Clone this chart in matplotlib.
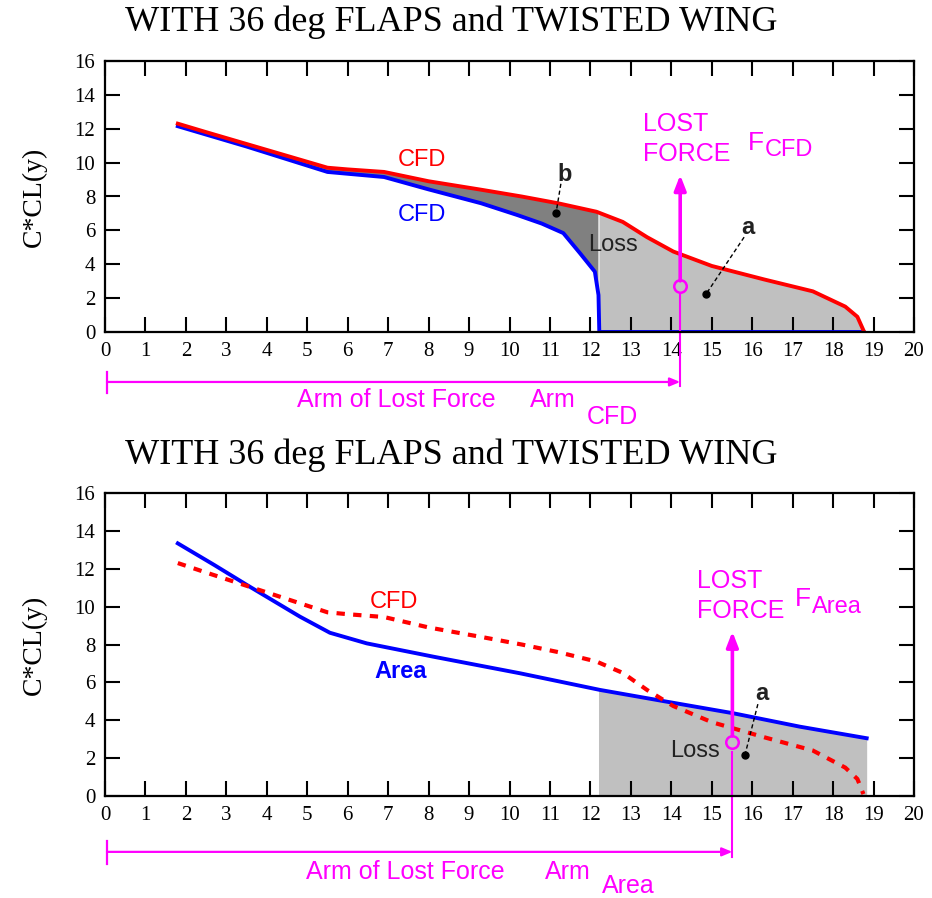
import numpy as np
import matplotlib
matplotlib.use("Agg")
import matplotlib.pyplot as plt

# Spanwise lift distribution C*CL(y) along the semi-span
cfd_x = [1.8, 2.5, 3.5, 4.5, 5.5, 6.0, 6.9, 8.0, 9.3, 10.3, 11.2, 12.15, 12.8, 13.4,
         14.05, 15.0, 16.3, 17.5, 18.3, 18.6, 18.75]
cfd_y = [12.3, 11.8, 11.1, 10.4, 9.7, 9.6, 9.45, 8.9, 8.4, 8.0, 7.6, 7.1, 6.5, 5.6,
         4.75, 3.9, 3.1, 2.4, 1.5, 0.9, 0.1]

# CFD distribution with the outer wing lost
lost_x = [1.8, 3.5, 5.5, 6.9, 8.0, 9.3, 10.2, 10.8, 11.33, 11.74, 12.11, 12.2, 12.22, 18.75]
lost_y = [12.15, 10.95, 9.45, 9.15, 8.42, 7.6, 6.9, 6.4, 5.84, 4.66, 3.56, 2.18, 0.0, 0.0]

# Area-method distribution
area_x = [1.8, 2.7, 3.58, 4.82, 5.56, 6.47, 8.11, 10.26, 12.24, 13.89, 15.53, 17.18, 18.83]
area_y = [13.34, 12.2, 11.05, 9.47, 8.62, 8.06, 7.36, 6.48, 5.6, 4.98, 4.37, 3.66, 3.05]

loss_start = 12.2          # span station where the lift is lost
arm_cfd = 14.22            # centroid of lost force (CFD)
force_cfd = (2.72, 9.27)   # marker / arrow tip heights
arm_area = 15.51           # centroid of lost force (Area)
force_area = (2.87, 8.68)

title = "WITH 36 deg FLAPS and TWISTED WING"
xticks = list(range(0, 21))
yticks = list(range(0, 17, 2))

RED, BLUE, MAG = "#ff0000", "#0000ff", "#ff00ff"
SANS = "Liberation Sans"
SERIF = "Liberation Serif"

fig = plt.figure(figsize=(9.32, 8.98), dpi=100)
W, H = 932, 898


def make_axes(top, bottom):
    ax = fig.add_axes([105 / W, 1 - bottom / H, 809 / W, (bottom - top) / H])
    ax.set_xlim(0, 20)
    ax.set_ylim(0, 16)
    ax.set_xticks(xticks)
    ax.set_yticks(yticks)
    ax.tick_params(direction="in", length=11, width=1.5, top=True, right=True,
                   labelsize=15, pad=7)
    for lab in ax.get_xticklabels() + ax.get_yticklabels():
        lab.set_fontfamily(SERIF)
    for s in ax.spines.values():
        s.set_linewidth(1.6)
    ax.set_ylabel("C*CL(y)", fontfamily=SERIF, fontsize=20, labelpad=20)
    return ax


def leader(ax, text, txy, dxy):
    ax.text(*txy, text, fontsize=17, fontfamily=SANS, ha="center", va="center",
            fontweight="bold", color="#222222")
    ax.plot([txy[0] - 0.1, dxy[0]], [txy[1] - 0.55, dxy[1]], color="black",
            lw=1.0, ls=(0, (3, 2)))
    ax.plot(*dxy, "o", color="black", ms=5)


def lost_force(ax, x, ys, lost_xy, force_xy, sub):
    ax.annotate("", xy=(x, ys[1]), xytext=(x, ys[0] + 0.3),
                arrowprops=dict(arrowstyle="-|>,head_length=0.9,head_width=0.35",
                                color=MAG, lw=2.6, shrinkA=0, shrinkB=0))
    ax.plot(x, ys[0], "o", ms=9, mfc="none", mec=MAG, mew=1.8, zorder=5)
    ax.plot([x, x], [ys[0] - 0.55, -3.2], color=MAG, lw=1.5, clip_on=False)
    ax.text(lost_xy[0], lost_xy[1], "LOST\nFORCE", color=MAG, fontsize=18,
            fontfamily=SANS, ha="left", va="center", linespacing=1.3)
    ax.text(force_xy[0], force_xy[1], "F", color=MAG, fontsize=19,
            fontfamily=SANS, ha="left", va="center")
    ax.text(force_xy[0] + 0.42, force_xy[1] - 0.4, sub, color=MAG, fontsize=17,
            fontfamily=SANS, ha="left", va="center")


def arm(ax, x, text_x, arm_x, sub, sub_y):
    ax.annotate("", xy=(x, -2.95), xytext=(0.05, -2.95), annotation_clip=False,
                arrowprops=dict(arrowstyle="-|>,head_length=0.6,head_width=0.25",
                                color=MAG, lw=1.6, shrinkA=0, shrinkB=0))
    ax.plot([0.05, 0.05], [-2.35, -3.6], color=MAG, lw=1.6, clip_on=False)
    ax.text(text_x, -4.0, "Arm of Lost Force", color=MAG, fontsize=18,
            fontfamily=SANS, ha="center", va="center", clip_on=False)
    ax.text(arm_x, -4.0, "Arm", color=MAG, fontsize=18, fontfamily=SANS,
            ha="left", va="center", clip_on=False)
    ax.text(arm_x + 1.4, sub_y, sub, color=MAG, fontsize=18, fontfamily=SANS,
            ha="left", va="center", clip_on=False)


# ---------- upper panel: CFD vs CFD with lost outer wing ----------
ax1 = make_axes(61, 332)
fig.text(125 / W, 1 - 22 / H, title, fontfamily=SERIF, fontsize=26,
         ha="left", va="center")

grid = np.linspace(cfd_x[0], cfd_x[-1], 600)
red_g = np.interp(grid, cfd_x, cfd_y)
blue_g = np.interp(grid, lost_x, lost_y)
inner = grid <= loss_start
ax1.fill_between(grid[inner], blue_g[inner], red_g[inner], color="#808080", lw=0)
outer = grid >= loss_start
ax1.fill_between(grid[outer], 0, red_g[outer], color="#c0c0c0", lw=0)

ax1.plot(lost_x, lost_y, color=BLUE, lw=2.8, solid_joinstyle="round")
ax1.plot(cfd_x, cfd_y, color=RED, lw=2.8, solid_joinstyle="round")

ax1.text(7.24, 10.15, "CFD", color=RED, fontsize=17, fontfamily=SANS, va="center")
ax1.text(7.24, 6.9, "CFD", color=BLUE, fontsize=17, fontfamily=SANS, va="center")
ax1.text(11.95, 5.15, "Loss", color="#222222", fontsize=17, fontfamily=SANS,
         va="center")
leader(ax1, "b", (11.37, 9.3), (11.15, 7.02))
leader(ax1, "a", (15.9, 6.15), (14.86, 2.24))
lost_force(ax1, arm_cfd, force_cfd, (13.3, 11.4), (15.9, 11.15), "CFD")
arm(ax1, arm_cfd, 7.2, 10.5, "CFD", -5.0)

# ---------- lower panel: CFD vs Area method ----------
ax2 = make_axes(493, 796)
fig.text(125 / W, 1 - 455 / H, title, fontfamily=SERIF, fontsize=26,
         ha="left", va="center")

grid2 = np.linspace(loss_start, area_x[-1], 300)
ax2.fill_between(grid2, 0, np.interp(grid2, area_x, area_y), color="#c0c0c0", lw=0)
ax2.plot(area_x, area_y, color=BLUE, lw=2.8, solid_joinstyle="round")
ax2.plot(cfd_x, cfd_y, color=RED, lw=3.0, ls=(0, (2, 2)))

ax2.text(6.55, 10.25, "CFD", color=RED, fontsize=17, fontfamily=SANS, va="center")
ax2.text(6.67, 6.55, "Area", color=BLUE, fontsize=17, fontfamily=SANS,
         va="center", fontweight="bold")
ax2.text(13.97, 2.35, "Loss", color="#222222", fontsize=17, fontfamily=SANS,
         va="center")
leader(ax2, "a", (16.24, 5.4), (15.82, 2.16))
lost_force(ax2, arm_area, force_area, (14.64, 10.55), (17.06, 10.4), "Area")
arm(ax2, arm_area, 7.42, 10.88, "Area", -4.75)

fig.savefig("out.png", dpi=100)
